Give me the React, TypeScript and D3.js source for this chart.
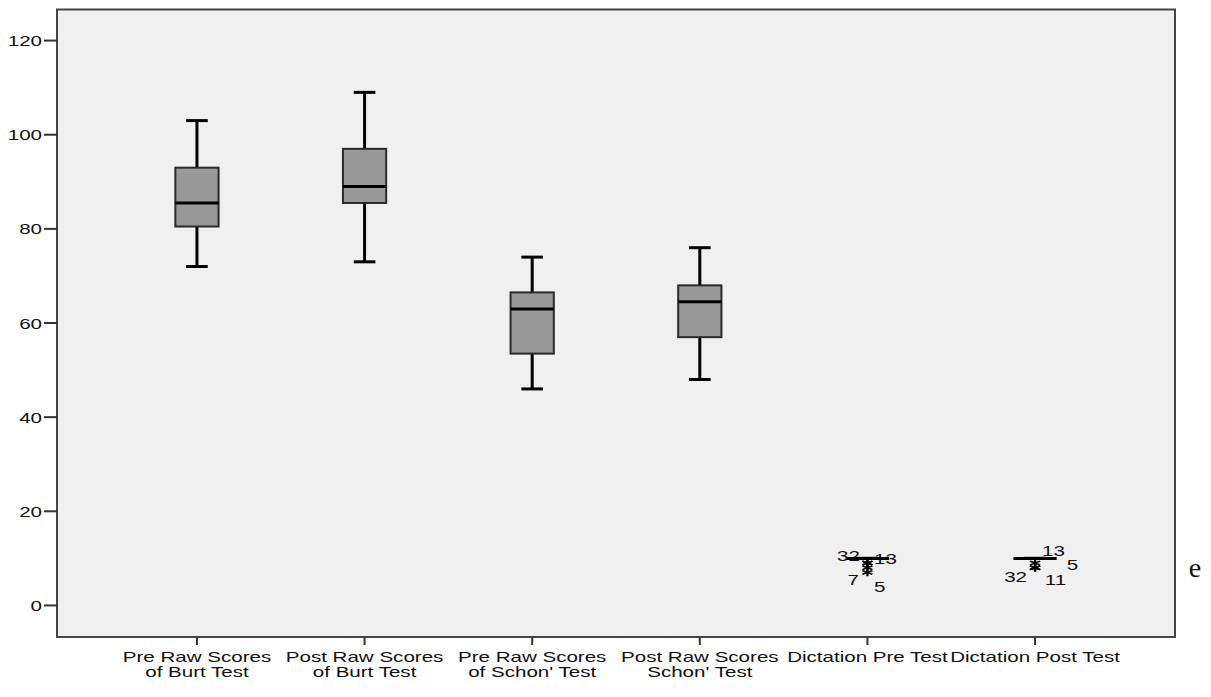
import React from "react";
import * as d3 from "d3";

// ---------- data ----------
const categories = [
  "Pre Raw Scores\nof Burt Test",
  "Post Raw Scores\nof Burt Test",
  "Pre Raw Scores\nof Schon' Test",
  "Post Raw Scores\nSchon' Test",
  "Dictation Pre Test",
  "Dictation Post Test",
];
const whiskerLow = [72, 73, 46, 48, 10, 10];
const q1 = [80.5, 85.5, 53.5, 57, 10, 10];
const median = [85.5, 89, 63, 64.5, 10, 10];
const q3 = [93, 97, 66.5, 68, 10, 10];
const whiskerHigh = [103, 109, 74, 76, 10, 10];

// extreme outliers (asterisks) with case labels
const outlierCategory = [4, 4, 4, 4, 5, 5, 5, 5];
const outlierValue = [9, 9, 7, 8, 9, 8, 8, 8];
const outlierLabel = ["32", "13", "7", "5", "13", "5", "32", "11"];

const yTicks = [0, 20, 40, 60, 80, 100, 120];
const yDomain = [-6.7, 126.6];

// ---------- layout / style ----------
const W = 1211;
const H = 697;
const plot = { left: 57, right: 1175, top: 9.5, bottom: 637 };
const FONT = "'Liberation Sans', Arial, sans-serif";
const FS = 15;
const SX = 1.37; // horizontal stretch of the original raster text
// label placement offsets [dx, dy, anchor] relative to the asterisk
const labelPlacement: [number, number, string][] = [
  [-7.5, -2.4, "end"],
  [6.6, 1, "start"],
  [-8.4, 12.5, "end"],
  [6.6, 24, "start"],
  [7, -7.4, "start"],
  [31.8, 2.2, "start"],
  [-8, 13.9, "end"],
  [9.8, 17.2, "start"],
];

function SText({ x, y, anchor = "middle", size = FS, family = FONT, sx = SX, children }: any) {
  return (
    <text
      transform={`translate(${x},${y}) scale(${sx},1)`}
      textAnchor={anchor}
      fontFamily={family}
      fontSize={size}
      fill="#111"
    >
      {children}
    </text>
  );
}

export default function App() {
  const x = d3
    .scaleBand<string>()
    .domain(categories)
    .range([plot.left, plot.right])
    .paddingInner(0)
    .paddingOuter(0.335);
  const y = d3.scaleLinear().domain(yDomain).range([plot.bottom, plot.top]);
  const step = x.step();
  const boxW = step * 0.258;
  const capW = boxW / 2;
  const cx = (i: number) => (x(categories[i]) as number) + x.bandwidth() / 2;
  const asterisk = d3.symbol().type(d3.symbolAsterisk).size(60)() as string;

  return (
    <svg
      width={W}
      height={H}
      style={{ position: "absolute", left: 0, top: 0, background: "#fff" }}
    >
      <rect
        x={plot.left}
        y={plot.top}
        width={plot.right - plot.left}
        height={plot.bottom - plot.top}
        fill="#f0f0f0"
      />

      {/* boxes */}
      {categories.map((c, i) => {
        const X = cx(i);
        return (
          <g key={c}>
            <line x1={X} x2={X} y1={y(whiskerHigh[i])} y2={y(q3[i])} stroke="#000" strokeWidth={3} />
            <line x1={X} x2={X} y1={y(q1[i])} y2={y(whiskerLow[i])} stroke="#000" strokeWidth={3} />
            <line x1={X - capW / 2} x2={X + capW / 2} y1={y(whiskerHigh[i])} y2={y(whiskerHigh[i])} stroke="#000" strokeWidth={3} />
            <line x1={X - capW / 2} x2={X + capW / 2} y1={y(whiskerLow[i])} y2={y(whiskerLow[i])} stroke="#000" strokeWidth={3} />
            {q3[i] > q1[i] && (
              <rect
                x={X - boxW / 2}
                y={y(q3[i])}
                width={boxW}
                height={y(q1[i]) - y(q3[i])}
                fill="#999999"
                stroke="#2a2a2a"
                strokeWidth={2}
              />
            )}
            <line x1={X - boxW / 2} x2={X + boxW / 2} y1={y(median[i])} y2={y(median[i])} stroke="#000" strokeWidth={3} />
          </g>
        );
      })}

      {/* outliers */}
      {outlierValue.map((v, k) => {
        const X = cx(outlierCategory[k]);
        const Y = y(v);
        return (
          <path key={"o" + k} d={asterisk} transform={`translate(${X},${Y}) scale(1.25,0.8)`} stroke="#000" strokeWidth={1.8} fill="none" />
        );
      })}
      {outlierValue.map((v, k) => {
        const X = cx(outlierCategory[k]);
        const Y = y(v);
        const [dx, dy, anchor] = labelPlacement[k];
        return (
          <SText key={"l" + k} x={X + dx} y={Y + dy} anchor={anchor}>
            {outlierLabel[k]}
          </SText>
        );
      })}

      {/* frame */}
      <rect
        x={plot.left}
        y={plot.top}
        width={plot.right - plot.left}
        height={plot.bottom - plot.top}
        fill="none"
        stroke="#444"
        strokeWidth={2}
      />

      {/* y axis */}
      {yTicks.map((t) => (
        <g key={"y" + t}>
          <line x1={plot.left - 13} x2={plot.left} y1={y(t)} y2={y(t)} stroke="#333" strokeWidth={2} />
          <SText x={plot.left - 15} y={y(t) + 5.5} anchor="end">
            {t}
          </SText>
        </g>
      ))}

      {/* x axis */}
      {categories.map((c, i) => {
        const X = cx(i);
        const lines = c.split("\n");
        return (
          <g key={"x" + i}>
            <line x1={X} x2={X} y1={plot.bottom} y2={plot.bottom + 8} stroke="#333" strokeWidth={2} />
            {lines.map((ln, j) => (
              <SText key={j} x={X} y={662 + j * 14.6}>
                {ln}
              </SText>
            ))}
          </g>
        );
      })}

      {/* stray document glyph */}
      <SText x={1195} y={577} size={28} family="'Liberation Serif', 'Times New Roman', serif" sx={1}>
        e
      </SText>
    </svg>
  );
}
